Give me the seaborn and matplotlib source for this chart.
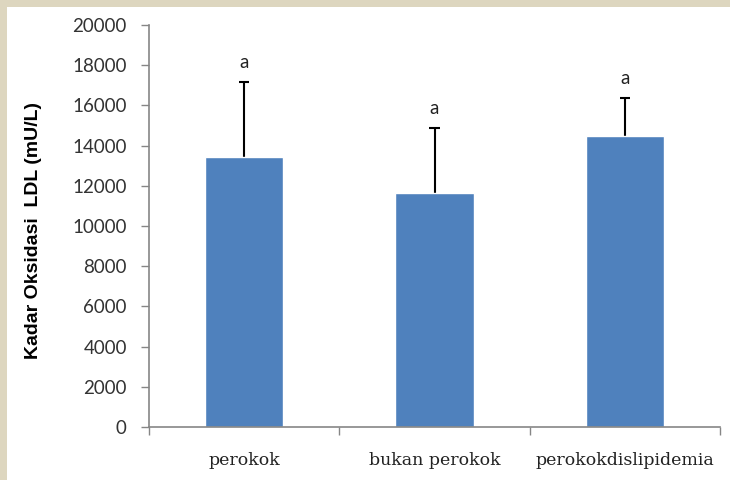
import matplotlib
matplotlib.use("Agg")
import matplotlib.pyplot as plt
import matplotlib.patches as mpatches
import seaborn as sns
import pandas as pd

# Group means and upper standard deviations of oxidised LDL
groups = ["perokok", "bukan perokok", "perokokdislipidemia"]
means = [13430, 11630, 14490]
sd = [3750, 3230, 1860]
letters = ["a", "a", "a"]
yticks = [0, 2000, 4000, 6000, 8000, 10000, 12000, 14000, 16000, 18000, 20000]

df = pd.DataFrame({"kelompok": groups, "kadar": means})

sns.set_theme(style="white")
plt.rcParams["font.family"] = ["Lato", "DejaVu Sans"]

fig = plt.figure(figsize=(7.3, 4.8), dpi=100)
fig.patch.set_facecolor("#ddd6bf")
# white panel inside the beige frame
panel = mpatches.Rectangle((7 / 730, 0), 1, 1 - 7 / 480,
                           transform=fig.transFigure,
                           facecolor="white", edgecolor="none", zorder=-10)
fig.patches.append(panel)
ax = fig.add_axes([149 / 730, 53 / 480, 571 / 730, 402 / 480])
ax.set_facecolor("none")

sns.barplot(data=df, x="kelompok", y="kadar", color="#4F81BD",
            saturation=1, width=0.41, errorbar=None, ax=ax, zorder=2)

# upper-only error bars with a cap at the top
xpos = list(range(len(groups)))
tops = [m + s for m, s in zip(means, sd)]
ax.vlines(xpos, means, tops, colors="black", linewidth=1.5, zorder=1)
ax.hlines(tops, [x - 0.027 for x in xpos], [x + 0.027 for x in xpos],
          colors="black", linewidth=1.5, zorder=1)

for x, top, t in zip(xpos, tops, letters):
    ax.annotate(t, xy=(x, top), xytext=(0, 14), textcoords="offset points",
                ha="center", va="center", fontsize=13.5, color="#222222")

ax.set_ylim(0, 20000)
ax.set_xlim(-0.5, 2.5)
ax.set_yticks(yticks)
ax.set_yticklabels([str(v) for v in yticks], fontsize=13.5, color="#333333")

# category axis: marks between categories, labels centred
ax.set_xticks(xpos)
ax.set_xticks([-0.5, 0.5, 1.5, 2.5], minor=True)
ax.set_xticklabels(groups, fontfamily="DejaVu Serif", fontsize=12.5,
                   color="#222222")
ax.tick_params(axis="x", which="major", length=0, pad=18)
ax.tick_params(axis="x", which="minor", length=6, width=1, color="#868686",
               direction="out", bottom=True)
ax.tick_params(axis="y", which="major", length=6, width=1, color="#868686",
               direction="out", left=True, pad=10)

for side in ["top", "right"]:
    ax.spines[side].set_visible(False)
for side in ["left", "bottom"]:
    ax.spines[side].set_color("#868686")
    ax.spines[side].set_linewidth(1.2)

ax.set_xlabel("")
ax.set_ylabel("Kadar Oksidasi  LDL (mU/L)", fontfamily="Liberation Sans",
              fontweight="bold", fontsize=14, color="black")
ax.yaxis.set_label_coords(-0.188, 0.49)

fig.savefig("out.png", dpi=100, facecolor=fig.get_facecolor())
